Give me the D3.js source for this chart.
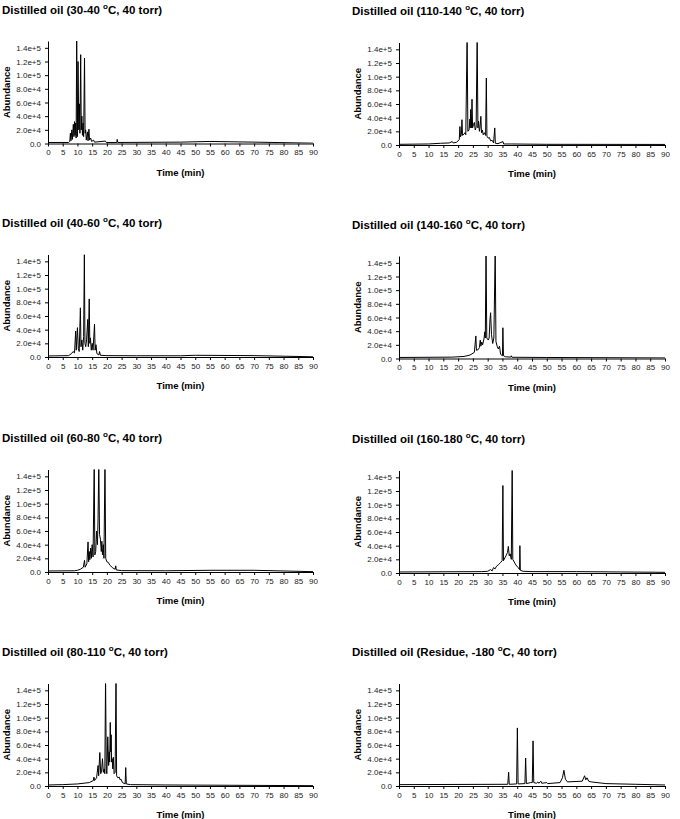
<!DOCTYPE html>
<html>
<head>
<meta charset="utf-8">
<script src="https://d3js.org/d3.v7.min.js"></script>
<style>
  body { margin: 0; background: #fff; }
  svg { display: block; font-family: "Liberation Sans", Arial, sans-serif; }
</style>
</head>
<body>
<div id="chart"></div>
<script>
const width = 680;
const height = 819;

// fraction labels, in reading order (left column then right column)
const fractions = ["30-40", "40-60", "60-80", "80-110", "110-140", "140-160", "160-180", "Residue, -180"];

const xTicks = [0, 5, 10, 15, 20, 25, 30, 35, 40, 45, 50, 55, 60, 65, 70, 75, 80, 85, 90];
const yTicks = [0, 20000, 40000, 60000, 80000, 100000, 120000, 140000];
const yTickLabels = ["0.0", "2.0e+4", "4.0e+4", "6.0e+4", "8.0e+4", "1.0e+5", "1.2e+5", "1.4e+5"];

// chromatogram traces, [time (min), abundance]
const trace30_40 = [[0,1500],[7,1500],[7.4,3000],[7.6,15000],[7.8,4000],[8.1,20000],[8.3,6000],[8.6,28000],[8.8,10000],[9.0,32000],[9.2,12000],[9.4,30000],[9.55,8000],[9.75,150000],[9.95,10000],[10.2,120000],[10.45,20000],[10.65,58000],[10.85,15000],[11.1,130000],[11.3,20000],[11.5,40000],[11.7,12000],[11.9,30000],[12.1,10000],[12.4,125000],[12.6,15000],[12.8,20000],[13.0,5000],[13.4,17000],[13.6,4000],[13.9,21000],[14.1,5000],[14.5,8000],[14.8,3000],[15.5,5000],[15.8,2000],[19.5,3500],[19.8,1500],[23.4,1500],[23.5,6000],[23.7,1500],[45,2000],[55,3000],[70,2000],[90,500]];

const trace40_60 = [[0,1500],[7,2000],[8,5000],[8.5,8000],[9,6000],[9.4,38000],[9.6,10000],[10,43000],[10.3,12000],[10.6,8000],[11,72000],[11.2,15000],[11.5,25000],[11.8,10000],[12.1,30000],[12.35,150000],[12.55,20000],[12.8,15000],[13.1,25000],[13.5,55000],[13.7,15000],[14.0,85000],[14.2,20000],[14.4,28000],[14.7,10000],[15.0,20000],[15.3,10000],[15.8,48000],[16.0,10000],[16.3,18000],[16.6,5000],[17.3,3000],[17.5,8000],[17.8,2500],[20,2000],[30,1800],[45,1800],[50,2500],[70,2000],[90,300]];

const trace60_80 = [[0,1500],[9,1800],[10,2500],[11,4000],[12,7000],[12.4,17000],[12.6,7000],[13.2,12000],[13.6,44000],[13.8,15000],[14.0,30000],[14.2,18000],[14.5,35000],[14.7,20000],[15.0,40000],[15.3,22000],[15.7,160000],[15.9,25000],[16.2,30000],[16.5,60000],[16.8,40000],[17.0,78000],[17.25,160000],[17.5,55000],[17.8,48000],[18.1,30000],[18.3,45000],[18.5,25000],[18.8,40000],[19.0,20000],[19.35,160000],[19.6,20000],[20.0,15000],[20.5,14000],[21,10000],[22,6000],[22.8,4000],[23,9000],[23.2,3000],[25,2000],[40,1800],[55,2500],[70,2500],[90,500]];

const trace80_110 = [[0,1500],[5,2000],[10,3000],[14,5000],[15.4,8000],[15.6,13000],[15.8,8000],[16.5,12000],[17,30000],[17.2,15000],[17.6,49000],[17.9,18000],[18.2,22000],[18.5,40000],[18.8,20000],[19.1,25000],[19.3,18000],[19.55,160000],[19.8,22000],[20.0,18000],[20.3,72000],[20.6,30000],[20.8,50000],[20.95,35000],[21.15,93000],[21.3,50000],[21.45,75000],[21.6,35000],[21.8,40000],[22.0,25000],[22.2,42000],[22.45,18000],[22.8,20000],[23.1,160000],[23.3,15000],[23.7,12000],[24.2,13000],[24.5,9000],[24.8,10000],[25.3,5000],[26.2,3000],[26.4,27000],[26.6,3000],[28,2000],[40,1500],[90,500]];

const trace110_140 = [[0,1000],[10,1500],[14,2500],[17,3000],[18,5000],[18.3,3000],[19.5,4000],[20.4,8000],[20.6,27000],[20.8,12000],[21.1,15000],[21.3,37000],[21.5,14000],[22,16000],[22.3,18000],[22.6,15000],[23.05,160000],[23.3,20000],[23.7,22000],[24.0,38000],[24.1,25000],[24.25,52000],[24.5,25000],[24.7,67000],[24.9,25000],[25.2,30000],[25.5,33000],[25.8,22000],[26.1,26000],[26.45,160000],[26.7,25000],[26.9,35000],[27.2,20000],[27.4,25000],[27.7,42000],[27.9,18000],[28.2,22000],[28.5,15000],[28.9,18000],[29.3,14000],[29.55,98000],[29.75,13000],[30.2,10000],[30.6,11000],[31,6000],[31.5,7000],[32,3000],[32.4,25000],[32.6,2500],[33.5,2000],[35.2,5000],[35.4,1500],[38,1500],[50,1000],[90,800]];

const trace140_160 = [[0,1500],[18,2000],[22,3000],[24,5000],[25.5,9000],[26,33000],[26.2,12000],[26.8,13000],[27.2,16000],[27.5,27000],[27.7,18000],[28.0,24000],[28.3,20000],[28.8,30000],[29.0,39000],[29.2,30000],[29.45,160000],[29.7,30000],[30.2,27000],[30.5,30000],[30.8,58000],[31.0,67000],[31.3,35000],[31.7,22000],[32.1,30000],[32.55,160000],[32.8,25000],[33.2,18000],[33.6,14000],[34.0,18000],[34.4,6000],[35.0,4000],[35.15,45000],[35.35,4000],[36,2500],[37.8,2000],[38,4000],[38.2,1800],[50,1500],[90,800]];

const trace160_180 = [[0,1500],[28,2000],[30,2500],[31,5000],[31.5,3000],[32,8000],[32.5,6000],[33,10000],[33.6,12000],[34.3,15000],[34.9,18000],[35.15,128000],[35.35,18000],[35.8,22000],[36.3,26000],[36.7,30000],[37.0,39000],[37.3,25000],[37.6,28000],[38.0,20000],[38.3,160000],[38.5,20000],[39.0,16000],[39.5,12000],[40.3,8000],[40.8,5000],[40.9,40000],[41.05,4000],[42,2500],[45,2000],[60,2000],[75,1500],[90,1000]];

const traceResidue = [[0,2000],[36.8,2500],[37.1,20000],[37.3,2500],[39.8,3000],[40.05,85000],[40.3,3000],[42.6,3500],[42.85,41000],[43.1,3500],[44.5,5000],[45.1,5000],[45.35,66000],[45.6,5000],[46.5,4000],[47,6000],[47.3,4000],[48,7000],[48.3,4000],[50,5000],[50.3,3500],[54.5,5000],[55.3,12000],[55.8,23000],[56.3,10000],[57,6000],[62,7000],[62.8,15000],[63.2,9000],[63.6,12000],[64.2,7000],[65,6000],[67,5000],[70,3500],[80,2500],[90,1500]];

const traces = [trace30_40, trace40_60, trace60_80, trace80_110, trace110_140, trace140_160, trace160_180, traceResidue];

// panel placement: axis x-extent per column and baseline (y = 0) per row
const columns = [{ x0: 48, x1: 313, titleX: 2 }, { x0: 399, x1: 665, titleX: 352 }];
const baselines = [[143.5, 357, 572, 786], [145, 358.5, 573, 786]];
const plotHeight = 102.5; // pixels from 0 to 1.5e5

const svg = d3.select("#chart").append("svg")
    .attr("width", width)
    .attr("height", height);

fractions.forEach((label, i) => {
    const col = Math.floor(i / 4);
    const row = i % 4;
    const c = columns[col];
    const base = baselines[col][row];

    const x = d3.scaleLinear().domain([0, 90]).range([c.x0, c.x1]);
    const y = d3.scaleLinear().domain([0, 150000]).range([base, base - plotHeight]);

    const g = svg.append("g");

    // title with superscript degree "o"
    const title = g.append("text")
        .attr("x", c.titleX)
        .attr("y", base - 130)
        .attr("font-size", "11.5px")
        .attr("font-weight", "bold")
        .attr("fill", "#000");
    title.append("tspan").text(`Distilled oil (${label} `);
    title.append("tspan").attr("font-size", "8px").attr("dy", "-5").text("o");
    title.append("tspan").attr("dy", "5").text("C, 40 torr)");

    // clip so the overloaded peaks stop at the top of the axis
    const clipId = `clip${i}`;
    g.append("clipPath").attr("id", clipId)
        .append("rect")
        .attr("x", c.x0)
        .attr("y", base - plotHeight)
        .attr("width", c.x1 - c.x0)
        .attr("height", plotHeight);

    const line = d3.line()
        .x(d => x(d[0]))
        .y(d => y(d[1]));

    g.append("path")
        .datum(traces[i])
        .attr("clip-path", `url(#${clipId})`)
        .attr("d", line)
        .attr("fill", "none")
        .attr("stroke", "#000")
        .attr("stroke-width", 1)
        .attr("stroke-linejoin", "round");

    const xAxis = g.append("g")
        .attr("transform", `translate(0,${base})`)
        .call(d3.axisBottom(x).tickValues(xTicks).tickSize(3).tickSizeOuter(0).tickPadding(3));

    const yAxis = g.append("g")
        .attr("transform", `translate(${c.x0},0)`)
        .call(d3.axisLeft(y).tickValues(yTicks).tickFormat((d, k) => yTickLabels[k])
            .tickSize(3).tickSizeOuter(0).tickPadding(4));

    [xAxis, yAxis].forEach(ax => {
        ax.selectAll("text")
            .attr("font-size", "8px")
            .attr("font-family", "Liberation Sans, Arial, sans-serif")
            .attr("fill", "#222");
        ax.select(".domain").attr("stroke", "#000");
        ax.selectAll(".tick line").attr("stroke", "#000");
    });

    g.append("text")
        .attr("x", (c.x0 + c.x1) / 2)
        .attr("y", base + 32)
        .attr("text-anchor", "middle")
        .attr("font-size", "9.5px")
        .attr("font-weight", "bold")
        .text("Time (min)");

    g.append("text")
        .attr("transform", `translate(${c.x0 - 41.5},${base - plotHeight / 2}) rotate(-90)`)
        .attr("dy", "0.35em")
        .attr("text-anchor", "middle")
        .attr("font-size", "9.5px")
        .attr("font-weight", "bold")
        .text("Abundance");
});
</script>
</body>
</html>
